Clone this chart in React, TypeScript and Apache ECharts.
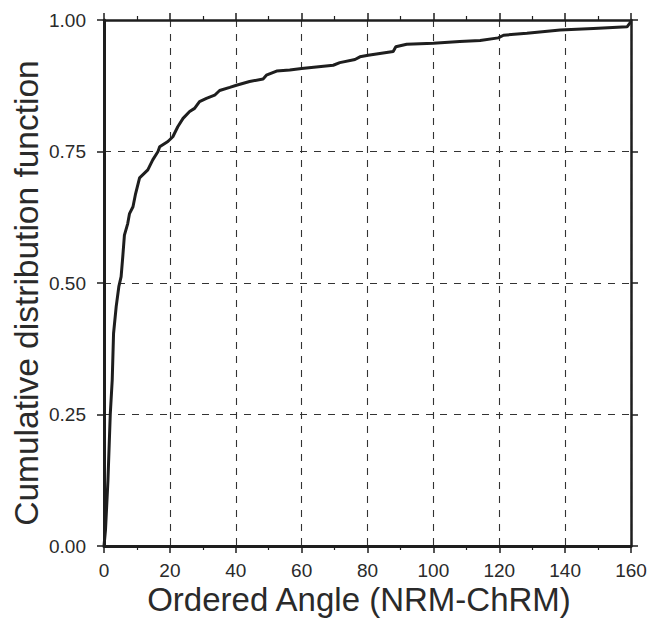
import React, { useEffect, useRef } from "react";
import * as echarts from "echarts";

const angles = [
  0, 0.45, 1.2, 1.9, 2.5, 2.9, 3.7, 4.5, 5.2, 5.7, 6.2, 7.2, 7.75, 8.8, 9.6, 10.8,
  13.3, 14.8, 16.4, 16.9, 19.4, 20.9, 22.4, 24, 26, 27.5, 29, 31.1, 33.6, 35.1,
  38.2, 40.2, 44.2, 48.3, 49.3, 52.4, 56.4, 60, 69.6, 71.6, 76.2, 77.7, 80.2,
  87.8, 88.6, 91.9, 100, 108, 114.2, 119.7, 121.3, 128.4, 138.5, 148.6, 158.8, 160,
];
const cdf = [
  0, 0.03, 0.125, 0.25, 0.316, 0.404, 0.455, 0.493, 0.512, 0.55, 0.591, 0.613, 0.632,
  0.645, 0.67, 0.7, 0.715, 0.734, 0.75, 0.759, 0.769, 0.778, 0.797, 0.813, 0.826,
  0.832, 0.845, 0.851, 0.857, 0.866, 0.872, 0.876, 0.883, 0.888, 0.895, 0.903,
  0.905, 0.908, 0.914, 0.919, 0.925, 0.93, 0.933, 0.94, 0.949, 0.954, 0.956, 0.959,
  0.961, 0.966, 0.971, 0.975, 0.981, 0.984, 0.987, 0.997,
];
const xTickLabels = ["0", "20", "40", "60", "80", "100", "120", "140", "160"];
const yTickLabels = ["0.00", "0.25", "0.50", "0.75", "1.00"];
const xTitle = "Ordered Angle (NRM-ChRM)";
const yTitle = "Cumulative distribution function";

const FONT = "'Liberation Sans', Arial, sans-serif";
const INK = "#2a2a2a";

export default function App() {
  const ref = useRef<HTMLDivElement>(null);
  useEffect(() => {
    document.body.style.margin = "0";
    if (!ref.current) return;
    const chart = echarts.init(ref.current, undefined, { renderer: "svg" });
    const dashed = { show: true, lineStyle: { type: [7, 7] as any, color: "#333", width: 1.1 } };
    const axisLine = (w: number) => ({ show: true, onZero: false, lineStyle: { color: "#1e1e1e", width: w } });
    const tick = { show: true, inside: false, length: 7, lineStyle: { color: "#1e1e1e", width: 1.5 } };
    const minor = { show: true, splitNumber: 2, length: 4, lineStyle: { color: "#1e1e1e", width: 1.2 } };
    chart.setOption({
      animation: false,
      backgroundColor: "#fff",
      grid: { left: 104, right: 17, top: 20, bottom: 76, containLabel: false, outerBoundsMode: "none" },
      graphic: [
        {
          type: "text",
          x: 359,
          y: 599,
          style: {
            text: xTitle,
            font: `33px ${FONT}`,
            fill: INK,
            textAlign: "center",
            textVerticalAlign: "middle",
          },
        },
        {
          type: "text",
          x: 26,
          y: 293,
          rotation: Math.PI / 2,
          style: {
            text: yTitle,
            font: `33.5px ${FONT}`,
            fill: INK,
            textAlign: "center",
            textVerticalAlign: "middle",
          },
        },
      ],
      xAxis: [
        {
          type: "value",
          min: 0,
          max: 160,
          interval: 20,
          position: "bottom",
          axisLine: axisLine(3),
          axisTick: tick,
          minorTick: minor,
          splitLine: dashed,
          axisLabel: {
            fontFamily: FONT,
            fontSize: 19,
            color: INK,
            margin: 15,
            formatter: (v: number) => xTickLabels[Math.round(v / 20)] ?? "",
          },
        },
        {
          type: "value",
          min: 0,
          max: 160,
          interval: 20,
          position: "top",
          axisLine: axisLine(2.5),
          axisTick: tick,
          minorTick: minor,
          splitLine: { show: false },
          axisLabel: { show: false },
        },
      ],
      yAxis: [
        {
          type: "value",
          min: 0,
          max: 1,
          interval: 0.25,
          position: "left",
          axisLine: axisLine(3),
          axisTick: tick,
          splitLine: dashed,
          axisLabel: {
            fontFamily: FONT,
            fontSize: 19,
            color: INK,
            margin: 18,
            formatter: (v: number) => yTickLabels[Math.round(v / 0.25)] ?? "",
          },
        },
        {
          type: "value",
          min: 0,
          max: 1,
          interval: 0.25,
          position: "right",
          axisLine: axisLine(2.5),
          axisTick: tick,
          splitLine: { show: false },
          axisLabel: { show: false },
        },
      ],
      series: [
        {
          type: "line",
          xAxisIndex: 0,
          yAxisIndex: 0,
          data: angles.map((a, i) => [a, cdf[i]]),
          showSymbol: false,
          symbol: "none",
          lineStyle: { color: "#1e1e1e", width: 3 },
          z: 5,
        },
      ],
    });
    return () => chart.dispose();
  }, []);
  return <div ref={ref} style={{ width: 648, height: 622 }} />;
}
